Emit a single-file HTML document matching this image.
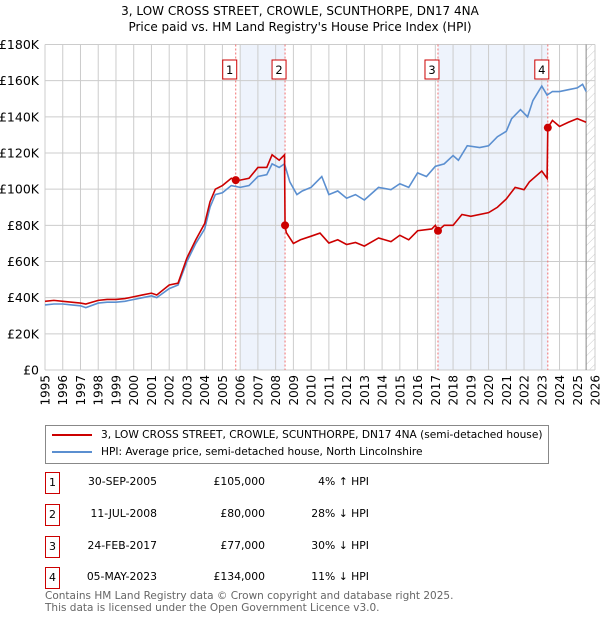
<!DOCTYPE html>
<html><head><meta charset="utf-8"><style>
body{margin:0;width:600px;height:620px;background:#fff;font-family:"DejaVu Sans","Liberation Sans",sans-serif;overflow:hidden;position:relative}
.t{position:absolute;white-space:nowrap;color:#000}
</style></head><body>
<div class="t" style="left:0;width:600px;text-align:center;top:3px;font-size:12px;line-height:16px">3, LOW CROSS STREET, CROWLE, SCUNTHORPE, DN17 4NA<br>Price paid vs. HM Land Registry's House Price Index (HPI)</div>
<svg id="chart" width="600" height="420" style="position:absolute;left:0;top:0" font-family="DejaVu Sans, Liberation Sans, sans-serif"></svg>
<div style="position:absolute;left:45px;top:425px;width:502px;height:37px;border:1px solid #888;font-size:10.6px;white-space:nowrap">
 <div style="position:absolute;left:6px;top:3px;white-space:nowrap"><span style="display:inline-block;width:40px;height:2px;background:#cc0000;vertical-align:middle;margin-right:9px"></span>3, LOW CROSS STREET, CROWLE, SCUNTHORPE, DN17 4NA (semi-detached house)</div>
 <div style="position:absolute;left:6px;top:20px;white-space:nowrap"><span style="display:inline-block;width:40px;height:2px;background:#5b8fd0;vertical-align:middle;margin-right:9px"></span>HPI: Average price, semi-detached house, North Lincolnshire</div>
</div>
<div id="tbl"></div>
<div class="t" style="left:45px;top:590px;font-size:10.5px;line-height:12px;color:#666">Contains HM Land Registry data © Crown copyright and database right 2025.<br>This data is licensed under the Open Government Licence v3.0.</div>
<script>
const hpiYears=[1995,1995.5,1996,1996.5,1997,1997.3,1998,1998.5,1999,1999.5,2000,2000.5,2001,2001.3,2002,2002.5,2003,2003.5,2004,2004.3,2004.6,2005,2005.5,2006,2006.5,2007,2007.5,2007.8,2008.2,2008.5,2008.8,2009.2,2009.5,2010,2010.6,2011,2011.5,2012,2012.5,2013,2013.8,2014.5,2015,2015.5,2016,2016.5,2017,2017.5,2018,2018.3,2018.8,2019.5,2020,2020.5,2021,2021.3,2021.8,2022.2,2022.5,2023,2023.3,2023.6,2024,2024.5,2025,2025.3,2025.5];
const hpiValues=[36,36.5,36.5,36,35.5,34.5,37,37.5,37.5,38,39,40,41,40,45,47,60,70,78,90,97,98,102,101,102,107,108,114,112,114,104,97,99,101,107,97,99,95,97,94,101,99.7,103,101,109,107,112.6,114,118.6,116,124,123,124,129,132,139,144,140,149,157,152,154,154,155,156,158,154];
const priceYears=[1995,1995.5,1996,1996.5,1997,1997.3,1998,1998.5,1999,1999.5,2000,2000.5,2001,2001.3,2002,2002.5,2003,2003.5,2004,2004.3,2004.6,2005,2005.5,2005.75,2006,2006.5,2007,2007.5,2007.8,2008.2,2008.5,2008.53,2008.6,2009,2009.4,2010,2010.5,2011,2011.5,2012,2012.5,2013,2013.8,2014.5,2015,2015.5,2016,2016.8,2017,2017.15,2017.5,2018,2018.5,2019,2020,2020.5,2021,2021.5,2022,2022.3,2023,2023.3,2023.34,2023.6,2024,2024.5,2025,2025.5];
const priceValues=[38,38.5,38,37.5,37,36.5,38.5,39,39,39.5,40.5,41.5,42.5,41.5,47,48,62,72,81,93,100,102,106,105,105,106,112,112,119,116,119,80,76,70,72,74,75.7,70.2,72,69.4,70.5,68.5,73,71,74.5,72,77,78,80,77,80,80,86,85,87,90,94.6,101,99.7,104,110,106,134,138,134.7,137,139,137];
const saleYears=[2005.75,2008.53,2017.15,2023.34];
const saleValues=[105,80,77,134];
const saleLabels=["1","2","3","4"];
const saleDates=["30-SEP-2005","11-JUL-2008","24-FEB-2017","05-MAY-2023"];
const salePrices=["£105,000","£80,000","£77,000","£134,000"];
const saleDiffs=["4% ↑ HPI","28% ↓ HPI","30% ↓ HPI","11% ↓ HPI"];
const yTicks=[0,20,40,60,80,100,120,140,160,180];
const yTickLabels=["£0","£20K","£40K","£60K","£80K","£100K","£120K","£140K","£160K","£180K"];
const xTicks=[1995,1996,1997,1998,1999,2000,2001,2002,2003,2004,2005,2006,2007,2008,2009,2010,2011,2012,2013,2014,2015,2016,2017,2018,2019,2020,2021,2022,2023,2024,2025,2026];

const X0=45,X1=595,Y0=370,Y1=44.5;
const xs=y=>X0+(y-1995)/(2026-1995)*(X1-X0);
const ys=v=>Y0-v/180*(Y0-Y1);
const svg=document.getElementById('chart');
const NS='http://www.w3.org/2000/svg';
function mk(tag,attrs,parent){const e=document.createElementNS(NS,tag);for(const k in attrs)e.setAttribute(k,attrs[k]);(parent||svg).appendChild(e);return e;}
let s=mk('rect',{x:xs(2006),y:Y1,width:xs(saleYears[1])-xs(2006),height:Y0-Y1,fill:'#eef3fc'});


s=mk('rect',{x:xs(saleYears[2]),y:Y1,width:xs(saleYears[3])-xs(saleYears[2]),height:Y0-Y1,fill:'#eef3fc'});


const defs=mk('defs',{});
const pat=mk('pattern',{id:'h',width:6,height:6,patternUnits:'userSpaceOnUse',patternTransform:'rotate(45)'},defs);
mk('line',{x1:0,y1:0,x2:0,y2:6,stroke:'#ccc','stroke-width':1},pat);
s=mk('rect',{x:xs(2025.5),y:Y1,width:X1-xs(2025.5),height:Y0-Y1,fill:'url(#h)'});


yTicks.forEach((v,i)=>{
 const l=mk('line',{x1:X0,x2:X1,y1:ys(v),y2:ys(v),stroke:'#ccc'});
 
 
 const t=mk('text',{x:X0-6,y:ys(v)+4.5,'text-anchor':'end','font-size':12.5,fill:'#000'});
 t.textContent=yTickLabels[i];
 
 
});
xTicks.forEach(v=>{
 const l=mk('line',{x1:xs(v),x2:xs(v),y1:Y1,y2:Y0,stroke:'#ccc'});
 
 
 const t=mk('text',{x:0,y:0,'text-anchor':'end','font-size':12,fill:'#000',transform:`translate(${xs(v)+4.5},${Y0+5}) rotate(-90)`});
 t.textContent=v;
 
 
});
const nowL=mk('line',{x1:xs(2025.5),x2:xs(2025.5),y1:Y1,y2:Y0,stroke:'#888'});


saleYears.forEach((y,i)=>{
 const l=mk('line',{x1:xs(y),x2:xs(y),y1:Y1,y2:Y0,stroke:'#f07070','stroke-dasharray':'2,2'});
 
 
 const r=mk('rect',{x:xs(y)-13,y:60,width:14,height:19,fill:'#fff',stroke:'#cc0000'});
 
 
 const t=mk('text',{x:xs(y)-6,y:74,'text-anchor':'middle','font-size':11.5,fill:'#000'});
 t.textContent=saleLabels[i];
 
 
});
const hp=mk('polyline',{points:hpiYears.map((y,i)=>xs(y)+','+ys(hpiValues[i])).join(' '),fill:'none',stroke:'#5b8fd0','stroke-width':1.6});


const pp=mk('polyline',{points:priceYears.map((y,i)=>xs(y)+','+ys(priceValues[i])).join(' '),fill:'none',stroke:'#cc0000','stroke-width':1.6});


saleYears.forEach((y,i)=>{
 const c=mk('circle',{cx:xs(y),cy:ys(saleValues[i]),r:4,fill:'#cc0000'});
 
 
});
const tbl=document.getElementById('tbl');
const rowY=[482,514,546,577];
saleLabels.forEach((lab,i)=>{
 const y=rowY[i];
 const b=document.createElement('div');
 b.className='t';
 b.style.cssText=`left:45px;top:${y-10}px;width:13px;height:20px;border:1px solid #cc0000;font-size:11px;text-align:center;line-height:20px`;
 b.textContent=lab;
 
 
 tbl.appendChild(b);
 const cols=[[saleDates[i],157,'table-date'],[salePrices[i],265,'table-price'],[saleDiffs[i],369,'table-hpi-diff']];
 cols.forEach(c=>{
  const d=document.createElement('div');
  d.className='t';
  d.style.cssText=`right:${600-c[1]}px;top:${y-8}px;font-size:10.8px;line-height:16px`;
  d.textContent=c[0];
  
  
  tbl.appendChild(d);
 });
});
</script>
</body></html>
